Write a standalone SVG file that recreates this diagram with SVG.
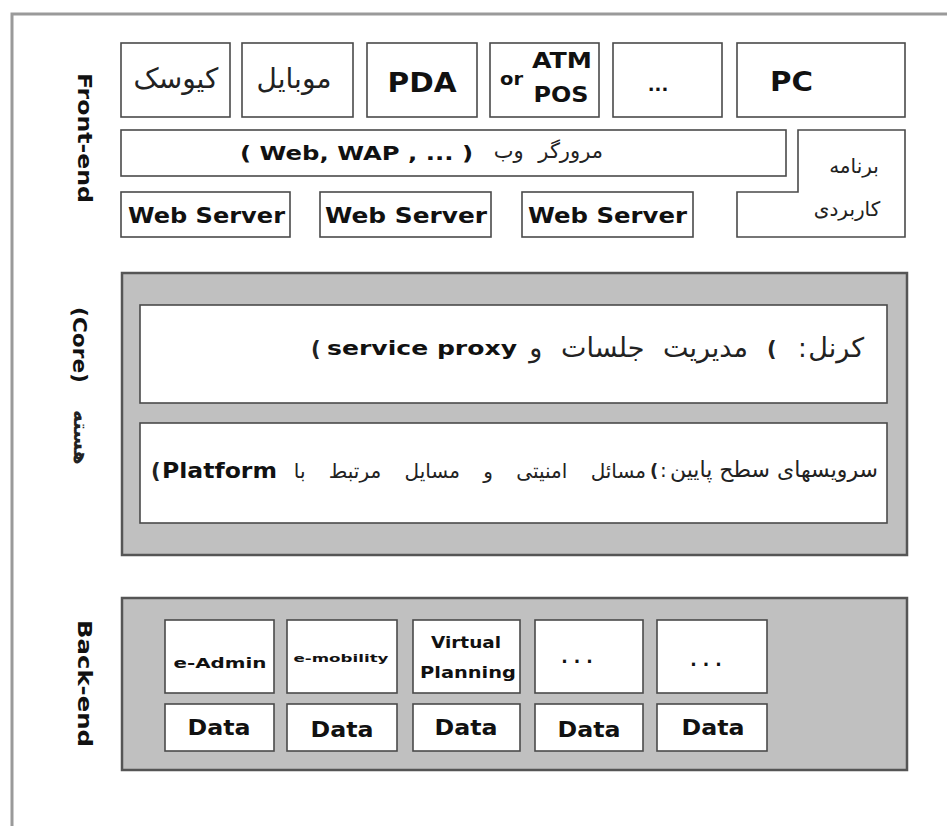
<svg xmlns="http://www.w3.org/2000/svg" width="947" height="826" viewBox="0 0 947 826">
<style>
.bg{fill:#ffffff}
.frame{fill:none;stroke:#9a9a9a;stroke-width:3}
.box{fill:#ffffff;stroke:#4a4a4a;stroke-width:1.6}
.panel{fill:#c0c0c0;stroke:#555555;stroke-width:2.5}
.b{font-family:"DejaVu Sans","Liberation Sans",sans-serif;font-weight:bold;fill:#111}
.fa{font-family:"DejaVu Sans","Noto Sans",sans-serif;fill:#222}
.p{font-family:"DejaVu Sans","Liberation Sans",sans-serif;font-weight:bold;fill:#222}
.c{text-anchor:middle}
.e{text-anchor:end}
</style>
<rect class="bg" x="0" y="0" width="947" height="826"/>
<g id="frame">
<path class="frame" d="M12,826 V14 H947"/>
</g>
<g id="connectors"/>

<g id="label-frontend"><text class="b" font-size="20" transform="translate(78,73) rotate(90)" textLength="130" lengthAdjust="spacingAndGlyphs">Front-end</text></g>
<g id="label-core">
<text class="b" font-size="20" transform="translate(73,307) rotate(90)" textLength="76" lengthAdjust="spacingAndGlyphs">(Core)</text>
<text class="fa" font-size="20" font-weight="bold" transform="translate(74,410) rotate(90)">هسته</text>
</g>
<g id="label-backend"><text class="b" font-size="20" transform="translate(78,620) rotate(90)" textLength="127" lengthAdjust="spacingAndGlyphs">Back-end</text></g>

<g id="kiosk"><rect class="box" x="121" y="43" width="109" height="74"/><text class="fa c" x="176" y="88" font-size="28">کیوسک</text></g>
<g id="mobile"><rect class="box" x="242" y="43" width="111" height="74"/><text class="fa c" x="294" y="88" font-size="28">موبایل</text></g>
<g id="pda"><rect class="box" x="367" y="43" width="110" height="74"/><text class="b c" x="422" y="92" font-size="27" textLength="69" lengthAdjust="spacingAndGlyphs">PDA</text></g>
<g id="atm"><rect class="box" x="490" y="43" width="109" height="74"/>
<text class="b" x="500" y="85" font-size="18" textLength="23" lengthAdjust="spacingAndGlyphs">or</text>
<text class="b c" x="562" y="68" font-size="21" textLength="60" lengthAdjust="spacingAndGlyphs">ATM</text>
<text class="b c" x="561" y="102" font-size="21" textLength="55" lengthAdjust="spacingAndGlyphs">POS</text></g>
<g id="etc1"><rect class="box" x="613" y="43" width="109" height="74"/><text class="b c" x="658" y="91" font-size="18">...</text></g>
<g id="pc"><rect class="box" x="737" y="43" width="168" height="74"/><text class="b" x="770" y="91" font-size="26" textLength="43" lengthAdjust="spacingAndGlyphs">PC</text></g>

<g id="browser"><rect class="box" x="121" y="130" width="665" height="46"/>
<text class="b" x="240" y="160" font-size="19" textLength="233" lengthAdjust="spacingAndGlyphs">( Web, WAP , ... )</text>
<text class="fa e" x="603" y="158" font-size="21" word-spacing="8">مرورگر وب</text></g>
<g id="app"><path class="box" d="M798,130 H905 V237 H737 V192 H798 Z"/>
<text class="fa c" x="854" y="173" font-size="20">برنامه</text>
<text class="fa c" x="847" y="216" font-size="20">کاربردی</text></g>

<g id="ws1"><rect class="box" x="121" y="192" width="169" height="45"/><text class="b" x="128" y="223" font-size="21" textLength="157" lengthAdjust="spacingAndGlyphs">Web Server</text></g>
<g id="ws2"><rect class="box" x="320" y="192" width="171" height="45"/><text class="b" x="325" y="223" font-size="21" textLength="162" lengthAdjust="spacingAndGlyphs">Web Server</text></g>
<g id="ws3"><rect class="box" x="522" y="192" width="171" height="45"/><text class="b" x="528" y="223" font-size="21" textLength="159" lengthAdjust="spacingAndGlyphs">Web Server</text></g>

<g id="core"><rect class="panel" x="122" y="273" width="785" height="282"/></g>
<g id="kernel"><rect class="box" x="140" y="305" width="747" height="98"/>
<text class="p" x="311" y="356" font-size="21">(</text>
<text class="b" x="327" y="355" font-size="20" textLength="190" lengthAdjust="spacingAndGlyphs">service proxy</text>
<text class="fa e" x="748" y="357" font-size="27" word-spacing="10">مدیریت جلسات و</text>
<text class="p" x="767" y="356" font-size="21">(</text>
<text class="fa" x="798" y="357" font-size="26">:</text>
<text class="fa e" x="864" y="357" font-size="27">کرنل</text></g>
<g id="lowservices"><rect class="box" x="140" y="423" width="747" height="100"/>
<text class="p" x="151" y="478" font-size="21">(</text>
<text class="b" x="162" y="478" font-size="22" textLength="115" lengthAdjust="spacingAndGlyphs">Platform</text>
<text class="fa e" x="646" y="478" font-size="20" word-spacing="17">مسائل امنیتی و مسایل مرتبط با</text>
<text class="p" x="650" y="477" font-size="18">(</text>
<text class="fa" x="660" y="477" font-size="20">:</text>
<text class="fa e" x="878" y="477" font-size="22">سرویسهای سطح پایین</text></g>

<g id="backend"><rect class="panel" x="122" y="598" width="785" height="172"/></g>
<g id="eadmin"><rect class="box" x="165" y="620" width="109" height="73"/><text class="b c" x="220" y="668" font-size="14" textLength="93" lengthAdjust="spacingAndGlyphs">e-Admin</text></g>
<g id="emobility"><rect class="box" x="287" y="620" width="110" height="73"/><text class="b c" x="341" y="662" font-size="11" textLength="95" lengthAdjust="spacingAndGlyphs">e-mobility</text></g>
<g id="vplanning"><rect class="box" x="413" y="620" width="107" height="73"/>
<text class="b c" x="466" y="648" font-size="15" textLength="70" lengthAdjust="spacingAndGlyphs">Virtual</text>
<text class="b c" x="468" y="678" font-size="15" textLength="96" lengthAdjust="spacingAndGlyphs">Planning</text></g>
<g id="etc2"><rect class="box" x="535" y="620" width="108" height="73"/><text class="b c" x="580" y="663" font-size="17" letter-spacing="6">...</text></g>
<g id="etc3"><rect class="box" x="657" y="620" width="110" height="73"/><text class="b c" x="709" y="666" font-size="17" letter-spacing="6">...</text></g>

<g id="data1"><rect class="box" x="165" y="704" width="109" height="47"/><text class="b c" x="219" y="735" font-size="21" textLength="63" lengthAdjust="spacingAndGlyphs">Data</text></g>
<g id="data2"><rect class="box" x="287" y="704" width="110" height="47"/><text class="b c" x="342" y="737" font-size="21" textLength="63" lengthAdjust="spacingAndGlyphs">Data</text></g>
<g id="data3"><rect class="box" x="413" y="704" width="107" height="47"/><text class="b c" x="466" y="735" font-size="21" textLength="63" lengthAdjust="spacingAndGlyphs">Data</text></g>
<g id="data4"><rect class="box" x="535" y="704" width="108" height="47"/><text class="b c" x="589" y="737" font-size="21" textLength="63" lengthAdjust="spacingAndGlyphs">Data</text></g>
<g id="data5"><rect class="box" x="657" y="704" width="110" height="47"/><text class="b c" x="713" y="735" font-size="21" textLength="63" lengthAdjust="spacingAndGlyphs">Data</text></g>
</svg>
